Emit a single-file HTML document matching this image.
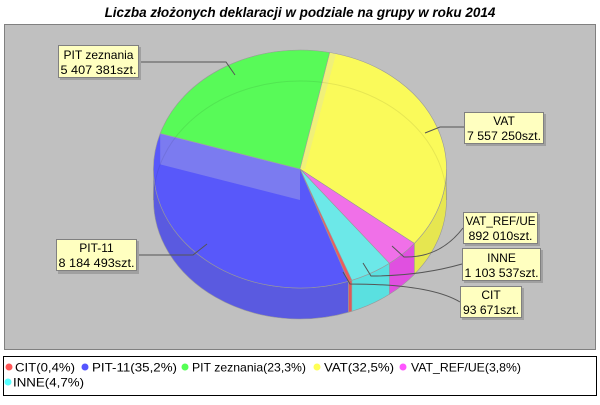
<!DOCTYPE html>
<html><head><meta charset="utf-8"><style>
body{margin:0;background:#fff;width:600px;height:400px;overflow:hidden}
svg text{font-family:"Liberation Sans",sans-serif}
</style></head><body>
<svg width="600" height="400" viewBox="0 0 600 400">
<rect width="600" height="400" fill="#fff"/>
<text x="300" y="17" text-anchor="middle" font-size="13.5" font-weight="bold" font-style="italic">Liczba złożonych deklaracji w podziale na grupy w roku 2014</text>
<rect x="4.5" y="24.5" width="591" height="325" fill="#c0c0c0" stroke="#808080"/>
<g stroke="#999" stroke-width="0.6">
<path d="M446.5,169 A146.5,119 0 0 1 414.3,243.4 L414.3,274.4 A146.5,119 0 0 0 446.5,200 Z" fill="#e6e650"/>
<path d="M414.3,243.4 A146.5,119 0 0 1 389.4,263.3 L389.4,294.3 A146.5,119 0 0 0 414.3,274.4 Z" fill="#e050e0"/>
<path d="M389.4,263.3 A146.5,119 0 0 1 351.8,280.3 L351.8,311.3 A146.5,119 0 0 0 389.4,294.3 Z" fill="#5ae0e0"/>
<path d="M351.8,280.3 A146.5,119 0 0 1 348.4,281.3 L348.4,312.3 A146.5,119 0 0 0 351.8,311.3 Z" fill="#e05a5a"/>
<path d="M348.4,281.3 A146.5,119 0 0 1 153.5,169 L153.5,200 A146.5,119 0 0 0 348.4,312.3 Z" fill="#5a5ae0"/>
</g>
<g stroke="#999" stroke-width="0.6">
<path d="M300,169 L329.7,52.5 A146.5,119 0 0 1 414.3,243.4 Z" fill="#fafa5a"/>
<path d="M300,169 L414.3,243.4 A146.5,119 0 0 1 389.4,263.3 Z" fill="#f070e8"/>
<path d="M300,169 L389.4,263.3 A146.5,119 0 0 1 351.8,280.3 Z" fill="#6ce8e8"/>
<path d="M300,169 L351.8,280.3 A146.5,119 0 0 1 348.4,281.3 Z" fill="#f05a5a"/>
<path d="M300,169 L348.4,281.3 A146.5,119 0 0 1 160.2,133.4 Z" fill="#5858fa"/>
<path d="M300,169 L160.2,133.4 A146.5,119 0 0 1 329.7,52.5 Z" fill="#58fa58"/>
</g>
<polygon points="160.2,133.4 300,169 300,200 160.2,164.4" fill="rgba(190,190,220,0.35)"/>
<polygon points="329.7,52.5 300,169 305,169 336,54" fill="rgba(220,220,180,0.35)"/>
<path d="M153.5,200 A146.5,119 0 0 1 446.5,200" fill="none" stroke="rgba(0,0,0,0.08)"/>
<g fill="none" stroke="#555" stroke-width="1">
<polyline points="139,62 226,62 235,75"/>
<polyline points="137,255 193,255 207,244"/>
<polyline points="425,133 440,127 464,127"/>
<path d="M392,246 L404,257 Q440,258 463,228"/>
<path d="M363,263 L371,276 Q420,276 462,264"/>
<path d="M343,272 L350,284 Q430,284 460,302"/>
</g>
<g font-size="12" text-anchor="middle" fill="#000">
<g><rect x="60" y="47" width="81" height="33" fill="#a0a0a0"/><rect x="58.5" y="45.5" width="80" height="32" fill="#ffffc0" stroke="#808080"/><text x="98.5" y="59" textLength="70" lengthAdjust="spacingAndGlyphs">PIT zeznania</text><text x="98.5" y="74" textLength="76" lengthAdjust="spacingAndGlyphs">5 407 381szt.</text></g>
<g><rect x="58" y="241" width="81" height="33" fill="#a0a0a0"/><rect x="56.5" y="239.5" width="80" height="31" fill="#ffffc0" stroke="#808080"/><text x="96.5" y="252">PIT-11</text><text x="96.5" y="267" textLength="76" lengthAdjust="spacingAndGlyphs">8 184 493szt.</text></g>
<g><rect x="466" y="114" width="80" height="32" fill="#a0a0a0"/><rect x="464.5" y="112.5" width="79" height="31" fill="#ffffc0" stroke="#808080"/><text x="504" y="125">VAT</text><text x="504" y="140" textLength="74" lengthAdjust="spacingAndGlyphs">7 557 250szt.</text></g>
<g><rect x="465" y="214" width="75" height="32" fill="#a0a0a0"/><rect x="463.5" y="212.5" width="74" height="31" fill="#ffffc0" stroke="#808080"/><text x="500.5" y="225" textLength="70" lengthAdjust="spacingAndGlyphs">VAT_REF/UE</text><text x="500.5" y="240" textLength="64" lengthAdjust="spacingAndGlyphs">892 010szt.</text></g>
<g><rect x="464" y="250" width="79" height="33" fill="#a0a0a0"/><rect x="462.5" y="248.5" width="78" height="32" fill="#ffffc0" stroke="#808080"/><text x="501.5" y="262">INNE</text><text x="501.5" y="277" textLength="74" lengthAdjust="spacingAndGlyphs">1 103 537szt.</text></g>
<g><rect x="462" y="288" width="62" height="32" fill="#a0a0a0"/><rect x="460.5" y="286.5" width="61" height="31" fill="#ffffc0" stroke="#808080"/><text x="491" y="299">CIT</text><text x="491" y="314" textLength="56" lengthAdjust="spacingAndGlyphs">93 671szt.</text></g>
</g>
<rect x="3.5" y="356.5" width="593" height="39" fill="#fff" stroke="#000"/>
<g font-size="12" fill="#000">
<circle cx="9" cy="367" r="3.5" fill="#ff5555"/><text x="15" y="371.5" textLength="60" lengthAdjust="spacingAndGlyphs">CIT(0,4%)</text>
<circle cx="85" cy="367" r="3.5" fill="#5555ff"/><text x="92" y="371.5" textLength="85" lengthAdjust="spacingAndGlyphs">PIT-11(35,2%)</text>
<circle cx="185" cy="367" r="3.5" fill="#55ff55"/><text x="192" y="371.5" textLength="114" lengthAdjust="spacingAndGlyphs">PIT zeznania(23,3%)</text>
<circle cx="317" cy="367" r="3.5" fill="#ffff55"/><text x="324" y="371.5" textLength="70" lengthAdjust="spacingAndGlyphs">VAT(32,5%)</text>
<circle cx="403" cy="367" r="3.5" fill="#ff55ff"/><text x="411" y="371.5" textLength="110" lengthAdjust="spacingAndGlyphs">VAT_REF/UE(3,8%)</text>
<circle cx="8" cy="382" r="3.5" fill="#55ffff"/><text x="13" y="386.5" textLength="71" lengthAdjust="spacingAndGlyphs">INNE(4,7%)</text>
</g>
</svg>
</body></html>
